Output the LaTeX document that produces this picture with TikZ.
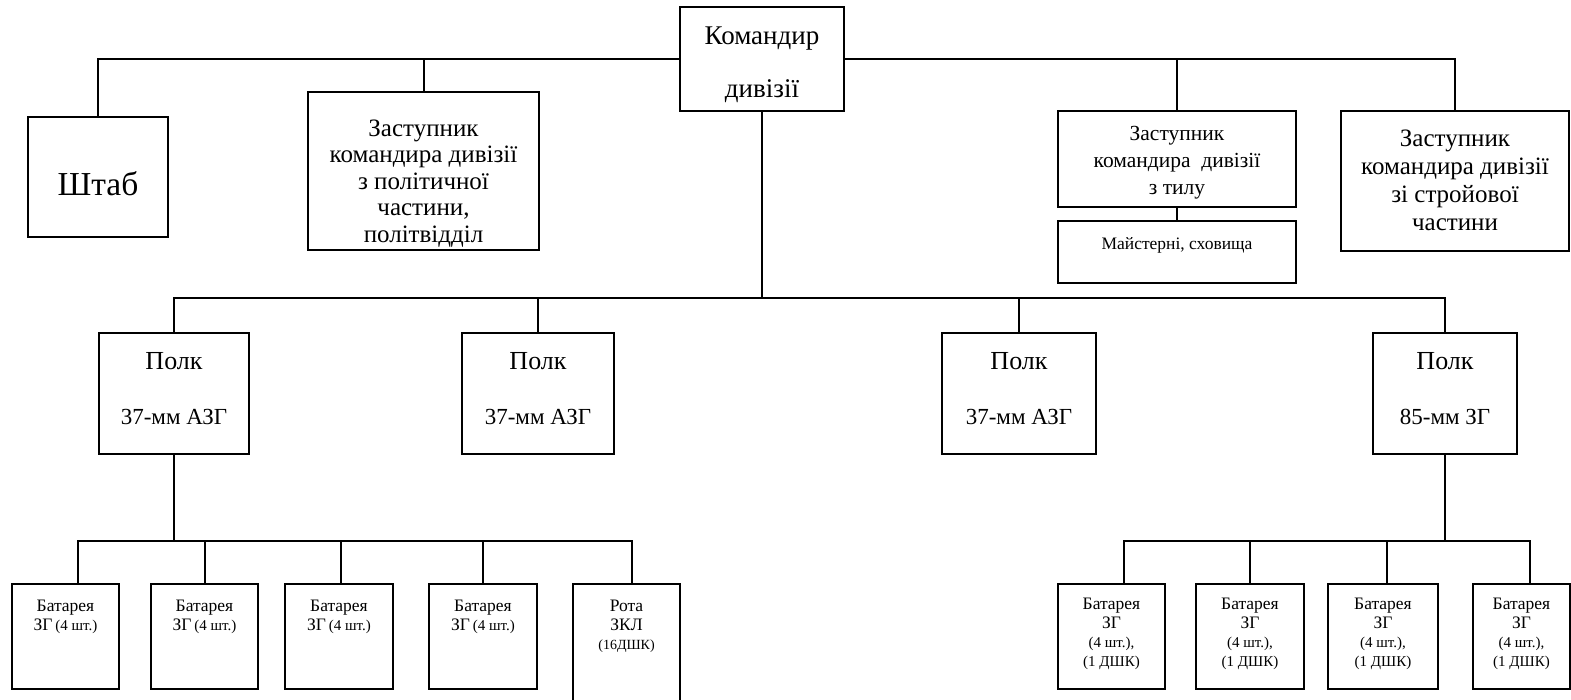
\documentclass[tikz,border=0pt]{standalone}
\usepackage{fontspec}
\setmainfont{Liberation Serif}
\tikzset{
  box/.style={draw, line width=2pt, inner sep=0pt, outer sep=0pt, anchor=north west, fill=white},
  conn/.style={line width=2pt, line join=miter}
}
% #1 name, #2 x, #3 y, #4 width, #5 height, #6 font size, #7 leading, #8 first baseline, #9 text
\newcommand{\orgbox}[9]{%
  \node[box] (#1) at (#2,#3) {\parbox[c][#5pt][t]{#4pt}{\centering\fontsize{#6pt}{#7pt}\selectfont\rule{0pt}{#8pt}#9\par}};}
\newcommand{\sm}[1]{{\fontsize{15pt}{19pt}\selectfont #1}}
\begin{document}
\begin{tikzpicture}[x=1pt,y=-1pt]
\clip (0,0) rectangle (1571,699);
\fill[white] (0,0) rectangle (1571,699);

% top level
\orgbox{kom}{680}{7}{164}{104}{27}{53}{37}{Командир\\дивізії}
\orgbox{shtab}{28}{117}{140}{120}{33.5}{36}{78}{Штаб}
\orgbox{polit}{308}{92}{231}{158}{25}{26.5}{44}{Заступник\\командира дивізії\\з політичної\\частини,\\політвідділ}
\orgbox{til}{1058}{111}{238}{96}{21.5}{27}{29}{Заступник\\командира\ \ дивізії\\з тилу}
\orgbox{mayst}{1058}{221}{238}{62}{17.5}{18}{28}{Майстерні, сховища}
\orgbox{stroy}{1341}{111}{228}{140}{25}{28}{35}{Заступник\\командира дивізії\\зі стройової\\частини}

% regiments
\orgbox{p1}{99}{333}{150}{121}{26}{55}{36}{Полк\\{\fontsize{23pt}{55pt}\selectfont 37-мм АЗГ}}
\orgbox{p2}{462}{333}{152}{121}{26}{55}{36}{Полк\\{\fontsize{23pt}{55pt}\selectfont 37-мм АЗГ}}
\orgbox{p3}{942}{333}{154}{121}{26}{55}{36}{Полк\\{\fontsize{23pt}{55pt}\selectfont 37-мм АЗГ}}
\orgbox{p4}{1373}{333}{144}{121}{26}{55}{36}{Полк\\{\fontsize{23pt}{55pt}\selectfont 85-мм ЗГ}}

% batteries, left
\orgbox{b1}{12}{584}{107}{105}{17.5}{19}{27}{Батарея\\ЗГ\,\sm{(4 шт.)}}
\orgbox{b2}{151}{584}{107}{105}{17.5}{19}{27}{Батарея\\ЗГ\,\sm{(4 шт.)}}
\orgbox{b3}{285}{584}{108}{105}{17.5}{19}{27}{Батарея\\ЗГ\,\sm{(4 шт.)}}
\orgbox{b4}{429}{584}{108}{105}{17.5}{19}{27}{Батарея\\ЗГ\,\sm{(4 шт.)}}
\orgbox{rota}{573}{584}{107}{125}{17.5}{19}{27}{Рота\\ЗКЛ\\{\fontsize{14pt}{19pt}\selectfont(16ДШК)}}

% batteries, right
\orgbox{br1}{1058}{584}{107}{105}{17.5}{19}{25}{Батарея\\ЗГ\\\sm{(4 шт.),\\(1 ДШК)}}
\orgbox{br2}{1196}{584}{108}{105}{17.5}{19}{25}{Батарея\\ЗГ\\\sm{(4 шт.),\\(1 ДШК)}}
\orgbox{br3}{1328}{584}{110}{105}{17.5}{19}{25}{Батарея\\ЗГ\\\sm{(4 шт.),\\(1 ДШК)}}
\orgbox{br4}{1473}{584}{97}{105}{17.5}{19}{25}{Батарея\\ЗГ\\\sm{(4 шт.),\\(1 ДШК)}}

% bus points
\coordinate (bus1) at (762,298);
\coordinate (bus2) at (174,541);
\coordinate (bus3) at (1445,541);

% connectors, top
\draw[conn] (shtab.north) |- (kom.west);
\draw[conn] (polit.north) -- (polit.north |- kom.west);
\draw[conn] (kom.east) -| (stroy.north);
\draw[conn] (til.north) -- (til.north |- kom.east);
\draw[conn] (til.south) -- (mayst.north);

% connectors, regiments
\draw[conn] (kom.south) -- (bus1);
\draw[conn] (p1.north) |- (bus1) -| (p4.north);
\draw[conn] (p2.north) -- (p2.north |- bus1);
\draw[conn] (p3.north) -- (p3.north |- bus1);

% connectors, left batteries
\draw[conn] (p1.south) -- (bus2);
\draw[conn] ([xshift=12pt]b1.north) |- (bus2) -| ([xshift=5pt]rota.north);
\draw[conn] (b2.north) -- (b2.north |- bus2);
\draw[conn] ([xshift=2pt]b3.north) -- ([xshift=2pt]b3.north |- bus2);
\draw[conn] (b4.north) -- (b4.north |- bus2);

% connectors, right batteries
\draw[conn] (p4.south) -- (bus3);
\draw[conn] ([xshift=12pt]br1.north) |- (bus3) -| ([xshift=8pt]br4.north);
\draw[conn] (br2.north) -- (br2.north |- bus3);
\draw[conn] ([xshift=4pt]br3.north) -- ([xshift=4pt]br3.north |- bus3);
\end{tikzpicture}
\end{document}
